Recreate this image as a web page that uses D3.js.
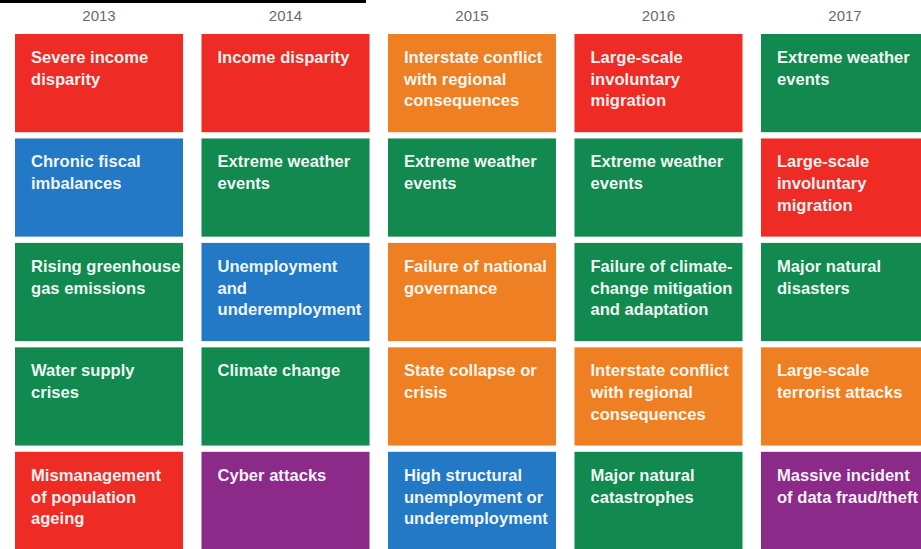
<!DOCTYPE html>
<html>
<head>
<meta charset="utf-8">
<script src="https://cdn.jsdelivr.net/npm/d3@7"></script>
<style>
  body { margin: 0; background: #fff; }
  svg { display: block; }
  .year { font-family: "Liberation Sans", Arial, sans-serif; font-size: 15px; fill: #6b6b6b; }
  .risk { font-family: "Liberation Sans", Arial, sans-serif; font-size: 16.6px; font-weight: bold; fill: #fff; fill-opacity: 0.95; }
</style>
</head>
<body>
<div id="chart"></div>
<script>

var width = 921,
    height = 549;

// years across the top
var years = ["2013", "2014", "2015", "2016", "2017"];

// top 5 risks by likelihood, one list per year (rank 1 first)
var risks2013 = ["Severe income disparity", "Chronic fiscal imbalances", "Rising greenhouse gas emissions", "Water supply crises", "Mismanagement of population ageing"];
var risks2014 = ["Income disparity", "Extreme weather events", "Unemployment and underemployment", "Climate change", "Cyber attacks"];
var risks2015 = ["Interstate conflict with regional consequences", "Extreme weather events", "Failure of national governance", "State collapse or crisis", "High structural unemployment or underemployment"];
var risks2016 = ["Large-scale involuntary migration", "Extreme weather events", "Failure of climate-change mitigation and adaptation", "Interstate conflict with regional consequences", "Major natural catastrophes"];
var risks2017 = ["Extreme weather events", "Large-scale involuntary migration", "Major natural disasters", "Large-scale terrorist attacks", "Massive incident of data fraud/theft"];

// category of each risk
var cats2013 = ["Societal", "Economic", "Environmental", "Environmental", "Societal"];
var cats2014 = ["Societal", "Environmental", "Economic", "Environmental", "Technological"];
var cats2015 = ["Geopolitical", "Environmental", "Geopolitical", "Geopolitical", "Economic"];
var cats2016 = ["Societal", "Environmental", "Environmental", "Geopolitical", "Environmental"];
var cats2017 = ["Environmental", "Societal", "Environmental", "Geopolitical", "Technological"];

// manual line breaks as they appear in the picture
var lines2013 = [["Severe income", "disparity"], ["Chronic fiscal", "imbalances"], ["Rising greenhouse", "gas emissions"], ["Water supply", "crises"], ["Mismanagement", "of population", "ageing"]];
var lines2014 = [["Income disparity"], ["Extreme weather", "events"], ["Unemployment", "and", "underemployment"], ["Climate change"], ["Cyber attacks"]];
var lines2015 = [["Interstate conflict", "with regional", "consequences"], ["Extreme weather", "events"], ["Failure of national", "governance"], ["State collapse or", "crisis"], ["High structural", "unemployment or", "underemployment"]];
var lines2016 = [["Large-scale", "involuntary", "migration"], ["Extreme weather", "events"], ["Failure of climate-", "change mitigation", "and adaptation"], ["Interstate conflict", "with regional", "consequences"], ["Major natural", "catastrophes"]];
var lines2017 = [["Extreme weather", "events"], ["Large-scale", "involuntary", "migration"], ["Major natural", "disasters"], ["Large-scale", "terrorist attacks"], ["Massive incident", "of data fraud/theft"]];

var categories = ["Economic", "Environmental", "Geopolitical", "Societal", "Technological"];
var categoryColors = ["#2479c6", "#11894f", "#ee7f22", "#ee2b24", "#8b2a88"];

var allRisks = [risks2013, risks2014, risks2015, risks2016, risks2017];
var allCats = [cats2013, cats2014, cats2015, cats2016, cats2017];
var allLines = [lines2013, lines2014, lines2015, lines2016, lines2017];

var cells = [];
years.forEach(function(y, i) {
  allRisks[i].forEach(function(r, j) {
    cells.push({ year: y, rank: j + 1, risk: r, cat: allCats[i][j], lines: allLines[i][j] });
  });
});

var color = d3.scaleOrdinal(categories, categoryColors);

var x = d3.scaleBand()
    .domain(years)
    .range([15, 929])
    .paddingInner(0.099)
    .paddingOuter(0);

var y = d3.scaleBand()
    .domain([1, 2, 3, 4, 5])
    .range([34, 550])
    .paddingInner(0.06)
    .paddingOuter(0);

var svg = d3.select("#chart").append("svg")
    .attr("width", width)
    .attr("height", height);

// black rule at the top left
svg.append("line")
    .attr("x1", 0)
    .attr("x2", 366)
    .attr("y1", 1.5)
    .attr("y2", 1.5)
    .attr("stroke", "#000")
    .attr("stroke-width", 3);

svg.append("g")
    .selectAll("text")
    .data(years)
    .enter().append("text")
    .attr("class", "year")
    .attr("x", function(d) { return x(d) + x.bandwidth() / 2; })
    .attr("y", 21)
    .attr("text-anchor", "middle")
    .text(function(d) { return d; });

var cell = svg.append("g")
    .selectAll("g")
    .data(cells)
    .enter().append("g")
    .attr("transform", function(d) { return "translate(" + x(d.year) + "," + y(d.rank) + ")"; });

cell.append("rect")
    .attr("width", x.bandwidth())
    .attr("height", y.bandwidth())
    .attr("fill", function(d) { return color(d.cat); });

cell.append("text")
    .attr("class", "risk")
    .selectAll("tspan")
    .data(function(d) { return d.lines; })
    .enter().append("tspan")
    .attr("x", 16)
    .attr("y", function(d, i) { return 29 + i * 21.7; })
    .text(function(d) { return d; });

</script>
</body>
</html>
